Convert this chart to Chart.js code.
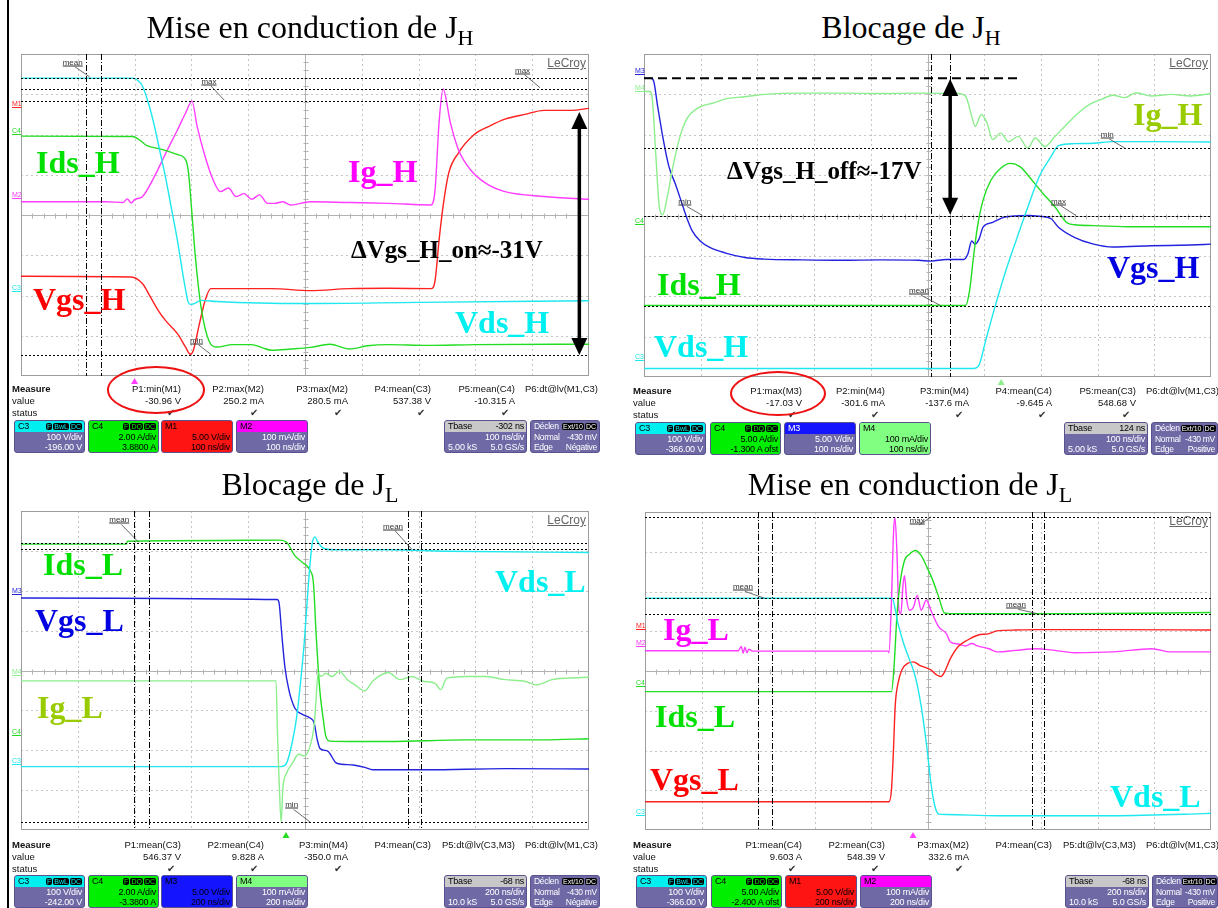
<!DOCTYPE html>
<html>
<head>
<meta charset="utf-8">
<script src="https://cdn.jsdelivr.net/npm/chart.js@4.4.1/dist/chart.umd.min.js"></script>
<style>
body{margin:0;background:#fff;}
#page{position:relative;width:1218px;height:908px;overflow:hidden;font-family:"Liberation Sans",Arial,sans-serif;}
#page canvas{position:absolute;}
.abs{position:absolute;white-space:nowrap;}
.title{font-family:"Liberation Serif","Times New Roman",serif;font-size:32px;line-height:32px;width:500px;text-align:center;color:#000;}
.title sub{font-size:22px;vertical-align:-7px;line-height:0;}
.lbl{font-family:"Liberation Serif","Times New Roman",serif;font-weight:bold;font-size:32px;line-height:32px;}
.ann{font-family:"Liberation Serif","Times New Roman",serif;font-weight:bold;font-size:25px;line-height:25px;color:#000;}
.mk{font-size:7px;line-height:8px;text-decoration:underline;}
.lvl{font-size:8px;line-height:9px;color:#333;text-decoration:underline;transform:translate(-50%,-50%);}
.lec{font-size:12px;line-height:13px;color:#666;text-decoration:underline;width:60px;text-align:right;}
.meas{font-size:9.5px;line-height:12px;color:#111;}
.chk{font-family:"DejaVu Sans",sans-serif;font-size:10px;line-height:12px;color:#333;}
.box{position:absolute;height:33px;border:1px solid #58528e;border-radius:3px;overflow:hidden;font-size:9px;letter-spacing:-0.2px;box-sizing:border-box;}
.box.tight{font-size:8.5px;letter-spacing:-0.3px;}
.bh{height:11px;line-height:11px;display:flex;justify-content:space-between;padding:0 2px 0 3px;}
.br{height:10px;line-height:10px;display:flex;justify-content:space-between;padding:0 2px 0 3px;}
.bh i{font-style:normal;background:#000;border-radius:2px;padding:0 1px;margin-left:1px;font-size:7px;letter-spacing:0;}
.ell{position:absolute;border:2.5px solid #ee1111;border-radius:50%;box-sizing:border-box;}
</style>
</head>
<body>
<div id="page"></div>
<script>
// ---- traces, time in ns, level in screen divisions (-4..4) ----
// Mise en conduction de J_H (100 ns/div)
const vdsH_on = [[0,3.4],[197,3.4],[207,3.33],[214,3.2],[225,2.75],[235,2.2],[245,1.55],[255,0.9],[265,0.15],[275,-0.6],[283,-1.3],[289,-1.8],[294,-2.15],[298,-2.22],[305,-2.2],[317,-2.12],[345,-2.15],[500,-2.2],[700,-2.17],[1000,-2.13]];
const idsH_on = [[0,1.96],[197,1.95],[210,1.85],[221,1.73],[248,1.63],[276,1.5],[290,1.37],[295,1.04],[300,0.21],[307,-1.04],[317,-2.29],[331,-3.13],[345,-3.28],[372,-3.22],[406,-3.22],[425,-3.3],[441,-3.36],[475,-3.33],[509,-3.29],[544,-3.21],[578,-3.33],[610,-3.25],[647,-3.22],[715,-3.24],[800,-3.22],[1000,-3.21]];
const igH_on = [[0,0.33],[150,0.33],[180,0.31],[187,0.4],[194,0.3],[200,0.38],[214,0.46],[235,0.96],[255,1.54],[276,2.13],[290,2.54],[301,2.83],[310,2.21],[324,1.46],[338,0.88],[351,0.58],[365,0.67],[379,0.46],[393,0.53],[406,0.39],[420,0.5],[434,0.29],[447,0.29],[461,0.33],[475,0.25],[509,0.33],[578,0.31],[647,0.29],[722,0.25],[729,0.63],[736,2.29],[743,3.13],[756,2.29],[770,1.63],[791,1.13],[818,0.79],[852,0.58],[921,0.46],[1000,0.39]];
const vgsH_on = [[0,-1.52],[194,-1.54],[214,-1.71],[228,-2.04],[242,-2.38],[255,-2.63],[276,-2.96],[290,-3.29],[298,-3.46],[303,-3.38],[314,-2.71],[324,-2.13],[334,-1.83],[372,-1.83],[441,-1.83],[509,-1.88],[578,-1.83],[647,-1.82],[722,-1.83],[729,-1.63],[736,-0.63],[743,0.21],[753,1.04],[770,1.54],[798,2.0],[825,2.21],[852,2.38],[887,2.5],[921,2.6],[969,2.6],[1000,2.65]];
const levelsOnH = [3.4, 3.14, 2.83, -3.48];
const cursorsOnH = [115, 141];

// Blocage de J_H (100 ns/div)
const vgsH_off = [[0,3.4],[12,3.4],[17,3.33],[24,2.71],[34,1.88],[44,1.21],[55,0.79],[65,0.38],[75,-0.04],[85,-0.38],[99,-0.63],[116,-0.79],[144,-0.93],[178,-1.04],[212,-1.08],[280,-1.1],[349,-1.11],[417,-1.1],[485,-1.11],[506,-1.13],[533,-1.09],[564,-1.09],[571,-0.96],[578,-0.63],[584,-0.71],[591,-0.58],[598,-0.29],[615,-0.17],[636,-0.04],[677,0],[697,-0.02],[718,-0.08],[731,-0.29],[759,-0.54],[793,-0.71],[827,-0.78],[895,-0.75],[964,-0.73],[1000,-0.71]];
const igH_off = [[0,3.07],[10,3.07],[14,2.96],[21,1.46],[27,0.21],[33,0.02],[41,0.46],[51,1.21],[62,1.88],[75,2.38],[96,2.67],[123,2.79],[144,2.89],[178,2.94],[212,3.0],[280,3.03],[349,3.03],[417,3.02],[485,3.03],[554,3.02],[567,2.96],[578,2.46],[584,2.21],[595,2.5],[605,2.29],[615,1.88],[629,2.04],[643,1.83],[660,1.96],[677,1.67],[690,1.92],[707,1.71],[725,1.96],[745,2.25],[766,2.54],[786,2.75],[807,2.88],[827,2.98],[848,2.92],[868,3.04],[895,2.96],[930,3.0],[964,2.96],[1000,3.02]];
const idsH_off = [[0,-2.23],[567,-2.23],[574,-1.88],[581,-1.04],[588,-0.29],[598,0.38],[612,0.88],[629,1.17],[646,1.29],[663,1.21],[684,0.88],[704,0.54],[725,0.21],[745,-0.17],[759,-0.23],[793,-0.25],[861,-0.28],[1000,-0.28]];
const vdsH_off = [[0,-3.79],[581,-3.79],[591,-3.7],[602,-3.13],[615,-2.46],[636,-1.46],[656,-0.63],[677,0.21],[697,0.96],[718,1.46],[731,1.73],[759,1.78],[793,1.79],[827,1.83],[895,1.83],[1000,1.82]];
const levelsOffH = [1.67, 0.0, -2.23];
const cursorsOffH = [506, 540];

// Blocage de J_L (200 ns/div)
const idsL_off = [[0,3.17],[370,3.17],[375,3.24],[700,3.26],[909,3.27],[936,3.21],[964,2.88],[991,2.71],[1018,2.51],[1030,2.17],[1039,0.93],[1046,0.1],[1053,-0.56],[1063,-1.15],[1073,-1.64],[1087,-1.77],[1156,-1.78],[1293,-1.78],[1568,-1.74],[1842,-1.74],[2000,-1.71]];
const vdsL_off = [[0,-2.41],[916,-2.41],[936,-2.31],[957,-1.73],[971,-1.15],[984,-0.32],[998,0.76],[1012,2.17],[1025,3.17],[1035,3.35],[1046,3.21],[1067,3.06],[1101,3.03],[1293,3.03],[1499,2.99],[2000,2.96]];
const vgsL_off = [[0,1.82],[902,1.78],[909,1.68],[918,0.93],[929,0.1],[943,-0.48],[964,-0.94],[991,-1.1],[1018,-1.19],[1032,-1.31],[1043,-1.73],[1053,-1.96],[1080,-2.02],[1108,-2.31],[1128,-2.35],[1170,-2.37],[1211,-2.43],[1238,-2.49],[1430,-2.49],[1705,-2.46],[2000,-2.47]];
const igL_off = [[0,-0.26],[898,-0.26],[903,-1.56],[909,-2.8],[916,-3.8],[922,-2.97],[936,-2.56],[957,-2.31],[977,-2.1],[998,-2.14],[1018,-1.89],[1032,-1.39],[1039,-0.73],[1046,-0.07],[1057,-0.15],[1073,-0.07],[1094,-0.15],[1121,-0.02],[1149,-0.23],[1176,-0.36],[1211,-0.51],[1238,-0.27],[1293,-0.05],[1334,-0.23],[1375,-0.15],[1417,-0.27],[1458,-0.32],[1478,-0.48],[1499,-0.19],[1568,-0.15],[1636,-0.15],[1705,-0.23],[1773,-0.27],[1815,-0.36],[1870,-0.23],[1924,-0.19],[2000,-0.17]];
const levelsOffL = [3.21, 3.05, -3.8];
const cursorsOffL = [398, 449, 1362, 1407];

// Mise en conduction de J_L (200 ns/div)
const igL_on = [[0,0.51],[330,0.51],[340,0.62],[347,0.45],[353,0.6],[360,0.46],[367,0.55],[380,0.5],[860,0.5],[862,0.46],[871,1.78],[878,3.44],[883,3.86],[890,3.03],[897,1.53],[904,1.44],[912,2.19],[917,2.4],[925,1.78],[935,1.53],[949,1.61],[962,1.9],[976,1.53],[994,1.78],[1010,1.53],[1038,1.11],[1065,0.94],[1079,0.73],[1106,0.68],[1133,0.63],[1154,0.69],[1175,0.63],[1216,0.56],[1243,0.48],[1311,0.52],[1380,0.56],[1448,0.52],[1517,0.46],[1654,0.48],[1791,0.56],[1859,0.48],[2000,0.48]];
const idsL_on = [[0,-0.52],[871,-0.52],[880,0.11],[890,1.36],[901,2.19],[917,2.78],[935,2.94],[955,3.03],[976,2.9],[997,2.6],[1017,2.28],[1038,1.86],[1058,1.46],[1079,1.44],[1243,1.44],[1517,1.44],[2000,1.47]];
const vdsL_on = [[0,1.83],[873,1.83],[894,1.19],[914,0.69],[935,0.28],[955,-0.14],[976,-0.89],[997,-1.98],[1010,-2.81],[1024,-3.39],[1038,-3.6],[1065,-3.61],[1243,-3.64],[1654,-3.64],[1927,-3.6],[2000,-3.58]];
const vgsL_on = [[0,-3.29],[862,-3.29],[871,-2.98],[878,-1.98],[884,-0.89],[894,-0.31],[908,0.03],[928,0.19],[949,0.23],[969,0.15],[990,0.09],[1010,0.03],[1031,-0.1],[1045,-0.14],[1058,-0.03],[1079,0.31],[1106,0.61],[1140,0.78],[1175,0.9],[1216,0.94],[1243,1.01],[1311,1.03],[1380,1.04],[1654,1.04],[2000,1.03]];
const levelsOnL = [3.875, 1.83, 1.44];
const cursorsOnL = [398, 449, 1366, 1411];

const CY = '#1ee8ee', GR = '#22dd22', MA = '#ff3cff', RD = '#ff2020', BL = '#2323dd', LG = '#8cee8c';
const PUR = '#6f69a6';
const page = document.getElementById('page');

function txt(html, x, y, cls, style) {
  const d = document.createElement('div');
  d.className = 'abs ' + (cls || '');
  d.style.left = x + 'px';
  d.style.top = y + 'px';
  if (style) d.style.cssText += style;
  d.innerHTML = html;
  page.appendChild(d);
  return d;
}

function line(ctx, x1, y1, x2, y2) {
  ctx.beginPath(); ctx.moveTo(x1, y1); ctx.lineTo(x2, y2); ctx.stroke();
}

function scopePlugin(p) {
  return {
    id: 'scope',
    beforeDatasetsDraw(chart) {
      const {ctx, chartArea: a} = chart;
      ctx.save();
      ctx.lineWidth = 1;
      ctx.strokeStyle = '#c6c6c6';
      ctx.setLineDash([2, 3]);
      for (let i = 1; i < 10; i++) {
        if (i === 5) continue;
        const px = Math.round(a.left + a.width * i / 10) + 0.5;
        line(ctx, px, a.top, px, a.bottom);
      }
      for (let j = 1; j < 8; j++) {
        if (j === 4) continue;
        const py = Math.round(a.top + a.height * j / 8) + 0.5;
        line(ctx, a.left, py, a.right, py);
      }
      ctx.setLineDash([]);
      ctx.strokeStyle = '#b2b2b2';
      const cx = Math.round(a.left + a.width / 2) + 0.5, cy = Math.round(a.top + a.height / 2) + 0.5;
      line(ctx, cx, a.top, cx, a.bottom);
      line(ctx, a.left, cy, a.right, cy);
      for (let k = 1; k < 50; k++) {
        const px = Math.round(a.left + a.width * k / 50) + 0.5;
        line(ctx, px, cy - 2, px, cy + 3);
      }
      for (let k = 1; k < 40; k++) {
        const py = Math.round(a.top + a.height * k / 40) + 0.5;
        line(ctx, cx - 2, py, cx + 3, py);
      }
      ctx.strokeStyle = '#9c9c9c';
      ctx.strokeRect(a.left + 0.5, a.top + 0.5, a.width - 1, a.height - 1);
      ctx.restore();
    },
    afterDatasetsDraw(chart) {
      const {ctx, chartArea: a, scales: {x, y}} = chart;
      ctx.save();
      ctx.strokeStyle = '#000';
      ctx.lineWidth = 1;
      ctx.setLineDash([2, 2]);
      p.levels.forEach(v => {
        const py = Math.round(y.getPixelForValue(v)) + 0.5;
        line(ctx, a.left, py, a.right, py);
      });
      ctx.setLineDash([6, 2, 1, 2]);
      p.cursors.forEach(t => {
        const px = Math.round(x.getPixelForValue(t)) + 0.5;
        line(ctx, px, a.top, px, a.bottom);
      });
      if (p.ref) {
        ctx.lineWidth = 2;
        ctx.setLineDash([9, 5]);
        const py = y.getPixelForValue(p.ref.y);
        line(ctx, a.left, py, x.getPixelForValue(p.ref.t), py);
      }
      ctx.setLineDash([]);
      ctx.lineWidth = 0.8;
      ctx.strokeStyle = '#444';
      p.tags.forEach(g => {
        line(ctx, x.getPixelForValue(g.x) + 2, y.getPixelForValue(g.y) + 5, x.getPixelForValue(g.tx), y.getPixelForValue(g.ty));
      });
      if (p.arrow) {
        const ax = x.getPixelForValue(p.arrow.t);
        const y1 = y.getPixelForValue(p.arrow.top), y2 = y.getPixelForValue(p.arrow.bottom);
        const hl = 17, hw = 8;
        ctx.lineWidth = 3.5;
        ctx.strokeStyle = '#000';
        ctx.fillStyle = '#000';
        line(ctx, ax, y1 + hl - 2, ax, y2 - hl + 2);
        ctx.beginPath(); ctx.moveTo(ax, y1); ctx.lineTo(ax - hw, y1 + hl); ctx.lineTo(ax + hw, y1 + hl); ctx.closePath(); ctx.fill();
        ctx.beginPath(); ctx.moveTo(ax, y2); ctx.lineTo(ax - hw, y2 - hl); ctx.lineTo(ax + hw, y2 - hl); ctx.closePath(); ctx.fill();
      }
      const tx = x.getPixelForValue(p.trig.t);
      ctx.fillStyle = p.trig.c;
      ctx.beginPath(); ctx.moveTo(tx, a.bottom + 2); ctx.lineTo(tx - 3.5, a.bottom + 8); ctx.lineTo(tx + 3.5, a.bottom + 8); ctx.closePath(); ctx.fill();
      ctx.restore();
    }
  };
}

const panels = [
  {
    plot: {l: 21, t: 54, r: 589, b: 376}, tmax: 1000,
    traces: [[vdsH_on, CY], [idsH_on, GR], [igH_on, MA], [vgsH_on, RD]],
    levels: levelsOnH, cursors: cursorsOnH,
    tags: [{s: 'mean', x: 91, y: 3.81, tx: 121, ty: 3.43}, {s: 'max', x: 331, y: 3.33, tx: 358, ty: 2.85},
           {s: 'max', x: 883, y: 3.61, tx: 914, ty: 3.16}, {s: 'min', x: 309, y: -3.1, tx: 334, ty: -3.46}],
    arrow: {t: 983, top: 2.56, bottom: -3.48},
    trig: {t: 200, c: MA}
  },
  {
    plot: {l: 644, t: 54, r: 1211, b: 377}, tmax: 1000,
    traces: [[igH_off, LG], [vdsH_off, CY], [idsH_off, GR], [vgsH_off, BL]],
    levels: levelsOffH, cursors: cursorsOffH, ref: {y: 3.4, t: 663},
    tags: [{s: 'min', x: 817, y: 2.02, tx: 848, ty: 1.67}, {s: 'min', x: 72, y: 0.35, tx: 103, ty: 0.0},
           {s: 'max', x: 731, y: 0.37, tx: 762, ty: 0.0}, {s: 'mean', x: 485, y: -1.85, tx: 523, ty: -2.23}],
    arrow: {t: 540, top: 3.38, bottom: 0.02},
    trig: {t: 630, c: LG}
  },
  {
    plot: {l: 21, t: 511, r: 589, b: 830}, tmax: 2000,
    traces: [[igL_off, LG], [vdsL_off, CY], [idsL_off, GR], [vgsL_off, BL]],
    levels: levelsOffL, cursors: cursorsOffL,
    tags: [{s: 'mean', x: 346, y: 3.79, tx: 415, ty: 3.21}, {s: 'mean', x: 1310, y: 3.63, tx: 1375, ty: 3.05},
           {s: 'min', x: 953, y: -3.36, tx: 1018, ty: -3.8}],
    trig: {t: 933, c: GR}
  },
  {
    plot: {l: 645, t: 512, r: 1211, b: 830}, tmax: 2000,
    traces: [[vdsL_on, CY], [idsL_on, GR], [vgsL_on, RD], [igL_on, MA]],
    levels: levelsOnL, cursors: cursorsOnL,
    tags: [{s: 'max', x: 962, y: 3.8, tx: 1010, ty: 3.875}, {s: 'mean', x: 346, y: 2.13, tx: 422, ty: 1.83},
           {s: 'mean', x: 1311, y: 1.68, tx: 1387, ty: 1.44}],
    trig: {t: 947, c: MA}
  }
];

panels.forEach(p => {
  const {l, t, r, b} = p.plot;
  const cv = document.createElement('canvas');
  cv.width = r - l + 15;
  cv.height = b - t + 12;
  cv.style.left = (l - 13) + 'px';
  cv.style.top = (t - 2) + 'px';
  page.appendChild(cv);
  const chart = new Chart(cv, {
    type: 'line',
    data: {
      datasets: p.traces.map(([pts, col]) => ({
        data: pts.map(([tt, v]) => ({x: tt, y: v})),
        borderColor: col,
        borderWidth: 1.4,
        pointRadius: 0,
        cubicInterpolationMode: 'monotone',
        fill: false
      }))
    },
    options: {
      responsive: false,
      animation: false,
      devicePixelRatio: 1,
      layout: {padding: {left: 13, top: 2, right: 2, bottom: 10}},
      plugins: {legend: {display: false}, tooltip: {enabled: false}},
      scales: {
        x: {type: 'linear', min: 0, max: p.tmax, display: false},
        y: {type: 'linear', min: -4, max: 4, display: false}
      }
    },
    plugins: [scopePlugin(p)]
  });
  const ox = l - 13, oy = t - 2;
  p.tags.forEach(g => {
    txt(g.s, ox + chart.scales.x.getPixelForValue(g.x), oy + chart.scales.y.getPixelForValue(g.y), 'lvl');
  });
  txt('LeCroy', r - 63, t + 3, 'lec');
});

// titles
txt('Mise en conduction de J<sub>H</sub>', 60, 11, 'title');
txt('Blocage de J<sub>H</sub>', 661, 11, 'title');
txt('Blocage de J<sub>L</sub>', 60, 468, 'title');
txt('Mise en conduction de J<sub>L</sub>', 660, 468, 'title');

// trace names (baseline positions)
function lbl(s, x, base, col) { txt(s, x, base - 27, 'lbl', 'color:' + col); }
function ann(s, x, base) { txt(s, x, base - 21, 'ann'); }
lbl('Ids_H', 36, 173, '#00e000'); lbl('Ig_H', 348, 182, '#ff00ff');
lbl('Vgs_H', 33, 310, '#ff0000'); lbl('Vds_H', 455, 333, '#00f0f0');
ann('\u0394Vgs_H_on\u2248-31V', 351, 258);
lbl('Ig_H', 1133, 125, '#99cc00'); lbl('Vgs_H', 1107, 278, '#0000e0');
lbl('Ids_H', 657, 295, '#00e000'); lbl('Vds_H', 654, 357, '#00f0f0');
ann('\u0394Vgs_H_off\u2248-17V', 727, 179);
lbl('Ids_L', 43, 575, '#00e000'); lbl('Vds_L', 495, 592, '#00f0f0');
lbl('Vgs_L', 35, 631, '#0000e0'); lbl('Ig_L', 37, 718, '#99cc00');
lbl('Ig_L', 663, 640, '#ff00ff'); lbl('Ids_L', 655, 727, '#00e000');
lbl('Vgs_L', 650, 790, '#ff0000'); lbl('Vds_L', 1110, 807, '#00f0f0');

// channel ground markers
[['M1', 12, 105, RD], ['C4', 12, 132, GR], ['M2', 12, 196, MA], ['C3', 12, 289, CY],
 ['M3', 635, 72, BL], ['M4', 635, 89, LG], ['C4', 635, 222, GR], ['C3', 635, 358, CY],
 ['M3', 12, 592, BL], ['M4', 12, 673, LG], ['C4', 12, 733, GR], ['C3', 12, 762, CY],
 ['M1', 636, 627, RD], ['M2', 636, 644, MA], ['C4', 636, 684, GR], ['C3', 636, 813, CY]]
  .forEach(([s, x, y, c]) => txt(s, x, y - 5, 'mk', 'color:' + c));

// measurement tables
const colRight = [181, 264, 348, 431, 515, 598];
function measure(ox, oy, heads, vals) {
  txt('<b>Measure</b>', ox + 12, oy, 'meas');
  txt('value', ox + 12, oy + 12, 'meas');
  txt('status', ox + 12, oy + 24, 'meas');
  heads.forEach((h, i) => {
    const rx = ox + colRight[i];
    txt(h, rx - 120, oy, 'meas', 'width:120px;text-align:right');
    if (vals[i]) {
      txt(vals[i], rx - 120, oy + 12, 'meas', 'width:120px;text-align:right');
      txt('\u2714', rx - 14, oy + 24, 'chk');
    }
  });
}
measure(0, 383, ['P1:min(M1)', 'P2:max(M2)', 'P3:max(M2)', 'P4:mean(C3)', 'P5:mean(C4)', 'P6:dt@lv(M1,C3)'],
        ['-30.96 V', '250.2 mA', '280.5 mA', '537.38 V', '-10.315 A', '']);
measure(621, 385, ['P1:max(M3)', 'P2:min(M4)', 'P3:min(M4)', 'P4:mean(C4)', 'P5:mean(C3)', 'P6:dt@lv(M1,C3)'],
        ['-17.03 V', '-301.6 mA', '-137.6 mA', '-9.645 A', '548.68 V', '']);
measure(0, 839, ['P1:mean(C3)', 'P2:mean(C4)', 'P3:min(M4)', 'P4:mean(C3)', 'P5:dt@lv(C3,M3)', 'P6:dt@lv(M1,C3)'],
        ['546.37 V', '9.828 A', '-350.0 mA', '', '', '']);
measure(621, 839, ['P1:mean(C4)', 'P2:mean(C3)', 'P3:max(M2)', 'P4:mean(C3)', 'P5:dt@lv(C3,M3)', 'P6:dt@lv(M1,C3)'],
        ['9.603 A', '548.39 V', '332.6 mA', '', '', '']);

// channel boxes
function box(x, y, w, o) {
  const d = document.createElement('div');
  d.className = 'box' + (o.tight ? ' tight' : '');
  d.style.cssText = `left:${x}px;top:${y}px;width:${w}px;background:${o.body || PUR};color:${o.ink || '#fff'}`;
  const chips = (o.chips || []).map(c => `<i style="color:${o.chipInk || o.head}">${c}</i>`).join('');
  d.innerHTML = `<div class="bh" style="background:${o.head || o.body || PUR};color:${o.headInk || '#000'}"><span>${o.name}</span><span>${chips}${o.headRight || ''}</span></div>` +
    o.rows.map(rw => `<div class="br"><span>${rw[0]}</span><span>${rw[1]}</span></div>`).join('');
  page.appendChild(d);
}
const chanC3 = (x, y, off) => box(x, y, 71, {name: 'C3', head: '#00f0f0', chips: ['F', 'BwL', 'DC'], rows: [['', '100 V/div'], ['', off]]});
const chanC4 = (x, y, a, b) => box(x, y, 71, {name: 'C4', head: '#00ee00', body: '#00ee00', ink: '#000', chips: ['F', 'DQ', 'DC'], rows: [['', a], ['', b]]});
const tbase = (x, y, w, d, div, ks) => box(x, y, w, {name: 'Tbase', head: '#c8c8c8', headRight: d, rows: [['', div], [ks, '5.0 GS/s']]});
const declen = (x, y, w, edge) => box(x, y, w, {name: 'D\u00e9clen', head: PUR, headInk: '#fff', chips: ['Ext/10', 'DC'], chipInk: '#fff', tight: true, rows: [['Normal', '-430 mV'], ['Edge', edge]]});

chanC3(14, 420, '-196.00 V');
chanC4(88, 420, '2.00 A/div', '3.8800 A');
box(161, 420, 72, {name: 'M1', head: '#ff1414', body: '#ff1414', ink: '#000', rows: [['', '5.00 V/div'], ['', '100 ns/div']]});
box(236, 420, 72, {name: 'M2', head: '#ff00ff', rows: [['', '100 mA/div'], ['', '100 ns/div']]});
tbase(444, 420, 83, '-302 ns', '100 ns/div', '5.00 kS');
declen(530, 420, 70, 'N\u00e9gative');

chanC3(635, 422, '-366.00 V');
chanC4(710, 422, '5.00 A/div', '-1.300 A ofst');
box(784, 422, 72, {name: 'M3', head: '#1414ff', headInk: '#fff', rows: [['', '5.00 V/div'], ['', '100 ns/div']]});
box(859, 422, 72, {name: 'M4', head: '#80ff80', body: '#80ff80', ink: '#000', rows: [['', '100 mA/div'], ['', '100 ns/div']]});
tbase(1064, 422, 84, '124 ns', '100 ns/div', '5.00 kS');
declen(1151, 422, 67, 'Positive');

chanC3(14, 875, '-242.00 V');
chanC4(88, 875, '2.00 A/div', '-3.3800 A');
box(161, 875, 72, {name: 'M3', head: '#1414ff', body: '#1414ff', ink: '#000', rows: [['', '5.00 V/div'], ['', '200 ns/div']]});
box(236, 875, 72, {name: 'M4', head: '#80ff80', rows: [['', '100 mA/div'], ['', '200 ns/div']]});
tbase(444, 875, 83, '-68 ns', '200 ns/div', '10.0 kS');
declen(530, 875, 70, 'N\u00e9gative');

chanC3(636, 875, '-366.00 V');
chanC4(711, 875, '5.00 A/div', '-2.400 A ofst');
box(785, 875, 72, {name: 'M1', head: '#ff1414', body: '#ff1414', ink: '#000', rows: [['', '5.00 V/div'], ['', '200 ns/div']]});
box(860, 875, 72, {name: 'M2', head: '#ff00ff', rows: [['', '100 mA/div'], ['', '200 ns/div']]});
tbase(1065, 875, 84, '-68 ns', '200 ns/div', '10.0 kS');
declen(1152, 875, 66, 'Positive');

// red highlight ellipses
[[107, 366, 98, 48], [730, 371, 96, 45]].forEach(([x, y, w, h]) => {
  const e = document.createElement('div');
  e.className = 'ell';
  e.style.cssText += `left:${x}px;top:${y}px;width:${w}px;height:${h}px`;
  page.appendChild(e);
});

// left frame line
const fr = document.createElement('div');
fr.style.cssText = 'position:absolute;left:7px;top:0;width:2px;height:908px;background:#000';
page.appendChild(fr);
</script>
</body>
</html>
